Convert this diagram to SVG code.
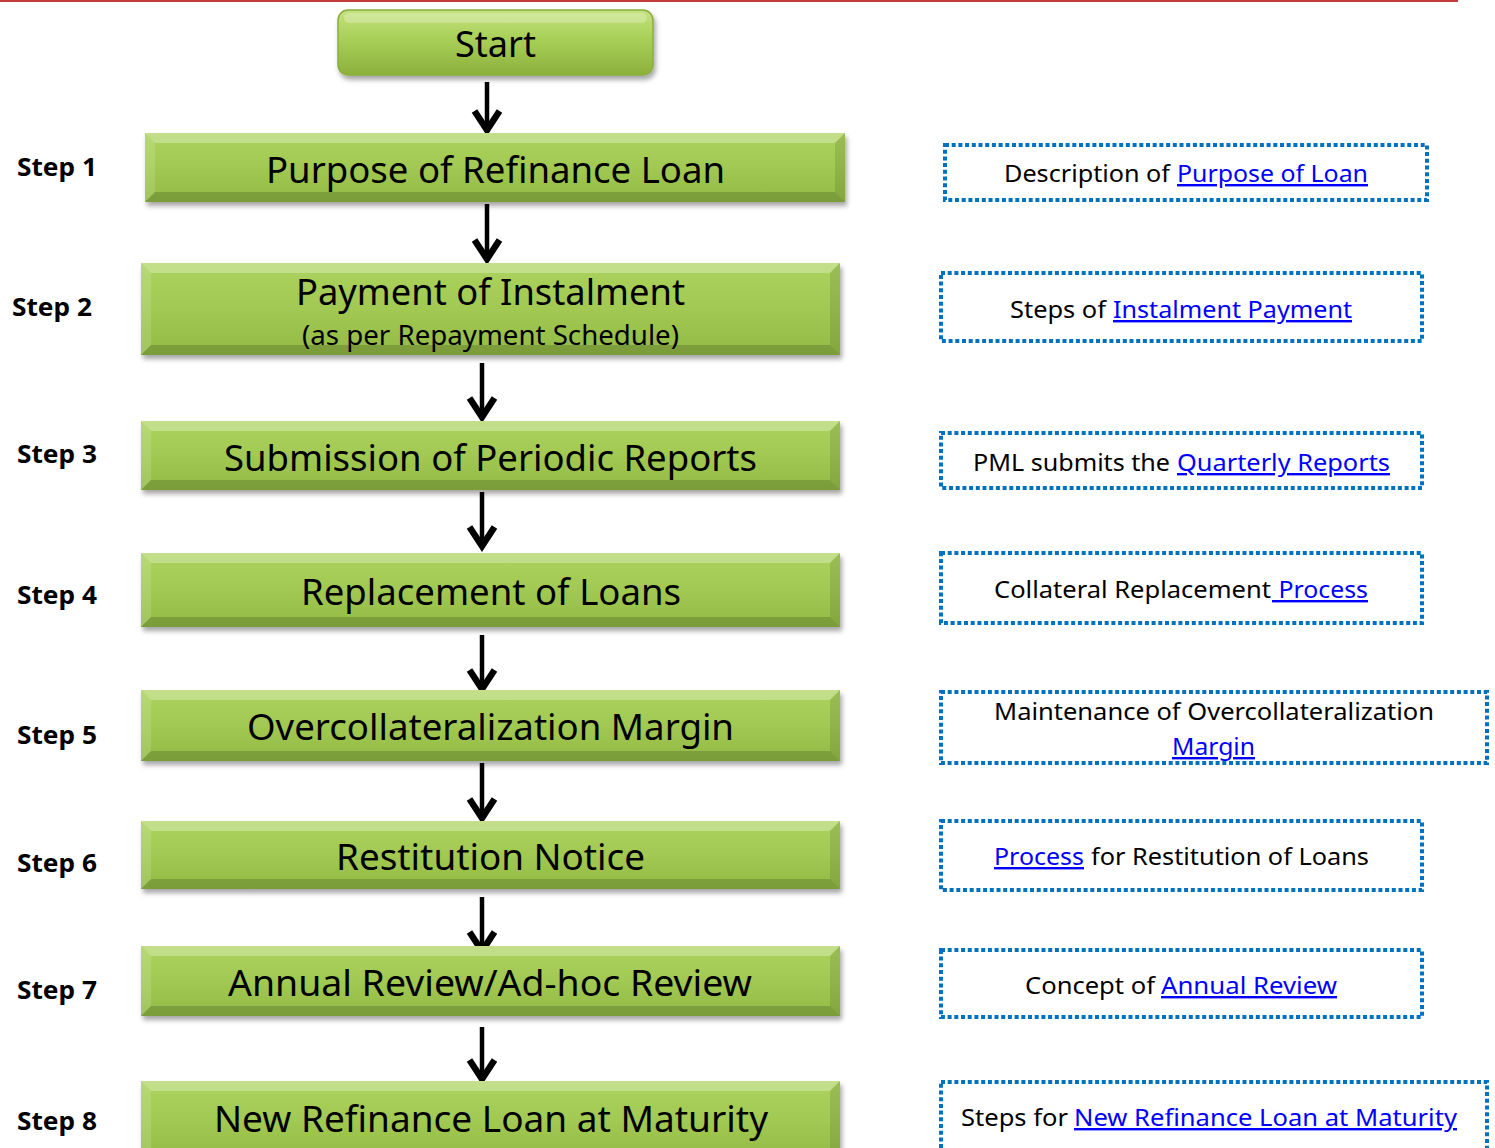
<svg xmlns="http://www.w3.org/2000/svg" width="1495" height="1148" viewBox="0 0 1495 1148">
  <style>
    .ttl { font-family: "Noto Sans", "Open Sans", sans-serif; font-size: 36px; fill: #000; }
    .sub { font-family: "Noto Sans", "Open Sans", sans-serif; font-size: 27px; fill: #000; }
    .step { font-family: "Noto Sans", "Open Sans", sans-serif; font-size: 25px; font-weight: bold; fill: #000; }
    .desc { font-family: "Noto Sans", "Open Sans", sans-serif; font-size: 24px; fill: #000; }
    .link { fill: #0000ff; text-decoration: underline; }
    .body { fill: url(#green); filter: url(#shadow); }
    .hiT { fill: #ffffff; fill-opacity: 0.28; }
    .hiL { fill: #ffffff; fill-opacity: 0.14; }
    .loR { fill: #000000; fill-opacity: 0.1; }
    .loB { fill: #000000; fill-opacity: 0.16; }
    .note { fill: none; stroke: #0070c0; stroke-width: 4; stroke-dasharray: 4 2.7; }
    .conn { stroke: #000; stroke-width: 4.5; fill: none; marker-end: url(#head); }
  </style>
  <defs>
    <linearGradient id="green" x1="0" y1="0" x2="0" y2="1">
      <stop offset="0" stop-color="#acd35e"/>
      <stop offset="0.5" stop-color="#a1c952"/>
      <stop offset="1" stop-color="#93ba45"/>
    </linearGradient>
    <linearGradient id="gloss" x1="0" y1="0" x2="0" y2="1">
      <stop offset="0" stop-color="#c4e27e"/>
      <stop offset="0.45" stop-color="#a8cf57"/>
      <stop offset="1" stop-color="#8cb13c"/>
    </linearGradient>
    <filter id="shadow" x="-5%" y="-20%" width="110%" height="150%">
      <feDropShadow dx="2" dy="4" stdDeviation="2.5" flood-color="#000" flood-opacity="0.35"/>
    </filter>
    <!-- chevron arrowhead, drawn in user units -->
    <marker id="head" viewBox="-28 -18 32 36" refX="0" refY="0" markerWidth="32" markerHeight="36" markerUnits="userSpaceOnUse" orient="auto">
      <path d="M -21,-12.5 L -2,0 L -21,12.5" fill="none" stroke="#000" stroke-width="6.5" stroke-linejoin="miter"/>
    </marker>
  </defs>

  <!-- top rule -->
  <rect x="0" y="0" width="1458" height="2" fill="#c43b3b"/>

  <!-- connectors -->
  <g id="connectors">
    <path class="conn" d="M 487,82 V 132"/>
    <path class="conn" d="M 487,204 V 261"/>
    <path class="conn" d="M 482,363 V 419"/>
    <path class="conn" d="M 482,492 V 548"/>
    <path class="conn" d="M 482,635 V 691"/>
    <path class="conn" d="M 482,763 V 820"/>
    <path class="conn" d="M 482,897 V 953"/>
    <path class="conn" d="M 482,1027 V 1081"/>
  </g>

  <!-- start -->
  <g id="start">
    <rect x="338" y="10" width="315" height="65" rx="10" fill="url(#gloss)" stroke="#8aae3f" stroke-width="1.5" filter="url(#shadow)"/>
    <rect x="344" y="13" width="303" height="10" rx="5" fill="#ffffff" fill-opacity="0.25"/>
    <text class="ttl" x="455" y="57" textLength="81" lengthAdjust="spacingAndGlyphs">Start</text>
  </g>

  <!-- step 1 -->
  <g id="node1">
    <rect class="body" x="145" y="133" width="700" height="69"/>
    <polygon class="hiT" points="145,133 845,133 835,143 155,143"/>
    <polygon class="hiL" points="145,133 155,143 155,192 145,202"/>
    <polygon class="loR" points="845,133 835,143 835,192 845,202"/>
    <polygon class="loB" points="145,202 845,202 835,192 155,192"/>
    <text class="ttl" x="266" y="183" textLength="459" lengthAdjust="spacingAndGlyphs">Purpose of Refinance Loan</text>
  </g>
  <!-- step 2 -->
  <g id="node2">
    <rect class="body" x="141" y="263" width="699" height="92"/>
    <polygon class="hiT" points="141,263 840,263 830,273 151,273"/>
    <polygon class="hiL" points="141,263 151,273 151,345 141,355"/>
    <polygon class="loR" points="840,263 830,273 830,345 840,355"/>
    <polygon class="loB" points="141,355 840,355 830,345 151,345"/>
    <text class="ttl" x="296" y="305" textLength="389" lengthAdjust="spacingAndGlyphs">Payment of Instalment</text>
    <text class="sub" x="302" y="345" textLength="377" lengthAdjust="spacingAndGlyphs">(as per Repayment Schedule)</text>
  </g>
  <!-- step 3 -->
  <g id="node3">
    <rect class="body" x="141" y="421" width="699" height="69"/>
    <polygon class="hiT" points="141,421 840,421 830,431 151,431"/>
    <polygon class="hiL" points="141,421 151,431 151,480 141,490"/>
    <polygon class="loR" points="840,421 830,431 830,480 840,490"/>
    <polygon class="loB" points="141,490 840,490 830,480 151,480"/>
    <text class="ttl" x="224" y="471" textLength="533" lengthAdjust="spacingAndGlyphs">Submission of Periodic Reports</text>
  </g>
  <!-- step 4 -->
  <g id="node4">
    <rect class="body" x="141" y="553" width="699" height="74"/>
    <polygon class="hiT" points="141,553 840,553 830,563 151,563"/>
    <polygon class="hiL" points="141,553 151,563 151,617 141,627"/>
    <polygon class="loR" points="840,553 830,563 830,617 840,627"/>
    <polygon class="loB" points="141,627 840,627 830,617 151,617"/>
    <text class="ttl" x="301" y="605" textLength="380" lengthAdjust="spacingAndGlyphs">Replacement of Loans</text>
  </g>
  <!-- step 5 -->
  <g id="node5">
    <rect class="body" x="141" y="690" width="699" height="71"/>
    <polygon class="hiT" points="141,690 840,690 830,700 151,700"/>
    <polygon class="hiL" points="141,690 151,700 151,751 141,761"/>
    <polygon class="loR" points="840,690 830,700 830,751 840,761"/>
    <polygon class="loB" points="141,761 840,761 830,751 151,751"/>
    <text class="ttl" x="247" y="740" textLength="487" lengthAdjust="spacingAndGlyphs">Overcollateralization Margin</text>
  </g>
  <!-- step 6 -->
  <g id="node6">
    <rect class="body" x="141" y="821" width="699" height="68"/>
    <polygon class="hiT" points="141,821 840,821 830,831 151,831"/>
    <polygon class="hiL" points="141,821 151,831 151,879 141,889"/>
    <polygon class="loR" points="840,821 830,831 830,879 840,889"/>
    <polygon class="loB" points="141,889 840,889 830,879 151,879"/>
    <text class="ttl" x="336" y="870" textLength="309" lengthAdjust="spacingAndGlyphs">Restitution Notice</text>
  </g>
  <!-- step 7 -->
  <g id="node7">
    <rect class="body" x="141" y="946" width="699" height="70"/>
    <polygon class="hiT" points="141,946 840,946 830,956 151,956"/>
    <polygon class="hiL" points="141,946 151,956 151,1006 141,1016"/>
    <polygon class="loR" points="840,946 830,956 830,1006 840,1016"/>
    <polygon class="loB" points="141,1016 840,1016 830,1006 151,1006"/>
    <text class="ttl" x="228" y="996" textLength="524" lengthAdjust="spacingAndGlyphs">Annual Review/Ad-hoc Review</text>
  </g>
  <!-- step 8 -->
  <g id="node8">
    <rect class="body" x="141" y="1081" width="699" height="80"/>
    <polygon class="hiT" points="141,1081 840,1081 830,1091 151,1091"/>
    <polygon class="hiL" points="141,1081 151,1091 151,1161 141,1161"/>
    <polygon class="loR" points="840,1081 830,1091 830,1161 840,1161"/>
    <text class="ttl" x="214" y="1132" textLength="554" lengthAdjust="spacingAndGlyphs">New Refinance Loan at Maturity</text>
  </g>

  <!-- step labels -->
  <g id="labels">
    <text class="step" x="17" y="176" textLength="80" lengthAdjust="spacingAndGlyphs">Step 1</text>
    <text class="step" x="12" y="316" textLength="80" lengthAdjust="spacingAndGlyphs">Step 2</text>
    <text class="step" x="17" y="463" textLength="80" lengthAdjust="spacingAndGlyphs">Step 3</text>
    <text class="step" x="17" y="604" textLength="80" lengthAdjust="spacingAndGlyphs">Step 4</text>
    <text class="step" x="17" y="744" textLength="80" lengthAdjust="spacingAndGlyphs">Step 5</text>
    <text class="step" x="17" y="872" textLength="80" lengthAdjust="spacingAndGlyphs">Step 6</text>
    <text class="step" x="17" y="999" textLength="80" lengthAdjust="spacingAndGlyphs">Step 7</text>
    <text class="step" x="17" y="1130" textLength="80" lengthAdjust="spacingAndGlyphs">Step 8</text>
  </g>

  <!-- side notes -->
  <g id="note1">
    <rect class="note" x="945" y="145" width="482" height="55"/>
    <text class="desc" x="1004" y="182" textLength="166" lengthAdjust="spacingAndGlyphs">Description of</text>
    <text class="desc link" x="1177" y="182" textLength="191" lengthAdjust="spacingAndGlyphs">Purpose of Loan</text>
  </g>
  <g id="note2">
    <rect class="note" x="941" y="273" width="481" height="68"/>
    <text class="desc" x="1010" y="318" textLength="96" lengthAdjust="spacingAndGlyphs">Steps of</text>
    <text class="desc link" x="1113" y="318" textLength="239" lengthAdjust="spacingAndGlyphs">Instalment Payment</text>
  </g>
  <g id="note3">
    <rect class="note" x="941" y="433" width="481" height="55"/>
    <text class="desc" x="973" y="471" textLength="197" lengthAdjust="spacingAndGlyphs">PML submits the</text>
    <text class="desc link" x="1177" y="471" textLength="213" lengthAdjust="spacingAndGlyphs">Quarterly Reports</text>
  </g>
  <g id="note4">
    <rect class="note" x="941" y="553" width="481" height="70"/>
    <text class="desc" x="994" y="598" textLength="277" lengthAdjust="spacingAndGlyphs">Collateral Replacement</text>
    <text class="desc link" x="1272" y="598" textLength="96" lengthAdjust="spacingAndGlyphs" xml:space="preserve"> Process</text>
  </g>
  <g id="note5">
    <rect class="note" x="941" y="692" width="546" height="71"/>
    <text class="desc" x="994" y="720" textLength="440" lengthAdjust="spacingAndGlyphs">Maintenance of Overcollateralization</text>
    <text class="desc link" x="1172" y="755" textLength="83" lengthAdjust="spacingAndGlyphs">Margin</text>
  </g>
  <g id="note6">
    <rect class="note" x="941" y="821" width="481" height="69"/>
    <text class="desc link" x="994" y="865" textLength="90" lengthAdjust="spacingAndGlyphs">Process</text>
    <text class="desc" x="1091" y="865" textLength="278" lengthAdjust="spacingAndGlyphs">for Restitution of Loans</text>
  </g>
  <g id="note7">
    <rect class="note" x="941" y="950" width="481" height="67"/>
    <text class="desc" x="1025" y="994" textLength="130" lengthAdjust="spacingAndGlyphs">Concept of</text>
    <text class="desc link" x="1161" y="994" textLength="176" lengthAdjust="spacingAndGlyphs">Annual Review</text>
  </g>
  <g id="note8">
    <rect class="note" x="941" y="1082" width="546" height="80"/>
    <text class="desc" x="961" y="1126" textLength="107" lengthAdjust="spacingAndGlyphs">Steps for</text>
    <text class="desc link" x="1074" y="1126" textLength="383" lengthAdjust="spacingAndGlyphs">New Refinance Loan at Maturity</text>
  </g>
</svg>
